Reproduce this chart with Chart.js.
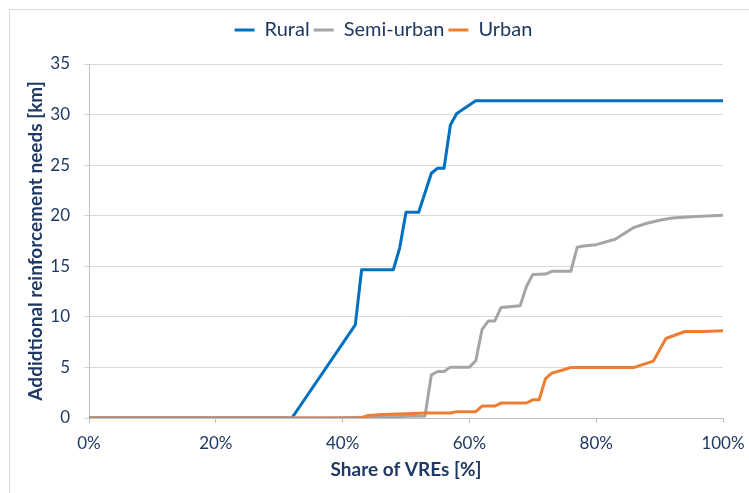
<!DOCTYPE html>
<html>
<head>
<meta charset="utf-8">
<script src="https://cdn.jsdelivr.net/npm/chart.js@4"></script>
<style>
    html, body { margin: 0; padding: 0; background: #fff; overflow: hidden; }
    #wrap { position: relative; width: 749px; height: 493px; }
    #frame { position: absolute; left: 9px; top: 9px; width: 800px; height: 600px;
             border-left: 1px solid #d9d9d9; border-top: 1px solid #d9d9d9; }
    #chart { position: absolute; left: 0; top: 0; }
</style>
</head>
<body>
<div id="wrap">
    <div id="frame"></div>
    <canvas id="chart" width="749" height="493"></canvas>
</div>
<script>
// Values (x = share of VREs in %, y = km)
const ruralX = [0, 32, 42, 43, 48, 49, 50, 52, 54, 55, 56, 57, 58, 61, 100];
const ruralY = [0, 0, 9.2, 14.66, 14.66, 16.8, 20.35, 20.35, 24.2, 24.7, 24.7, 28.96, 30.1, 31.36, 31.36];

const semiX = [0, 38, 45, 53, 54, 55, 56, 57, 60, 61, 62, 63, 64, 65, 68, 69, 70, 72, 73, 76, 77, 78, 80, 83, 86, 88, 90, 92, 95, 100];
const semiY = [0, 0, 0.1, 0.2, 4.27, 4.6, 4.6, 5.03, 5.03, 5.66, 8.76, 9.6, 9.6, 10.93, 11.1, 13.0, 14.2, 14.23, 14.5, 14.5, 16.88, 17.0, 17.14, 17.67, 18.85, 19.25, 19.55, 19.77, 19.9, 20.04];

const urbanX = [0, 43, 44, 46.4, 50, 53, 57, 58, 61, 62, 64, 65, 69, 70, 71, 72, 73, 75, 76, 86, 89, 91, 94, 97, 100];
const urbanY = [0, 0, 0.25, 0.35, 0.42, 0.49, 0.49, 0.63, 0.63, 1.18, 1.18, 1.48, 1.48, 1.8, 1.8, 3.9, 4.44, 4.8, 5.0, 5.0, 5.62, 7.86, 8.55, 8.55, 8.62];

const seriesNames = ['Rural', 'Semi-urban', 'Urban'];
const seriesColors = ['#0070C0', '#A5A5A5', '#ED7D31'];
const xTicks = [0, 20, 40, 60, 80, 100];
const yTicks = [0, 5, 10, 15, 20, 25, 30, 35];

const textColor = '#1F3864';
const fontFamily = 'Lato, "Open Sans", sans-serif';

function toPoints(xs, ys) {
    return xs.map((x, i) => ({ x: x, y: ys[i] }));
}

const datasets = [
    toPoints(ruralX, ruralY),
    toPoints(semiX, semiY),
    toPoints(urbanX, urbanY)
].map((pts, i) => ({
    label: seriesNames[i],
    data: pts,
    borderColor: seriesColors[i],
    backgroundColor: seriesColors[i],
    borderWidth: 3,
    pointRadius: 0,
    tension: 0,
    borderJoinStyle: 'round',
    order: 3 - i // urban drawn on top
}));

// give the legend some room below it and nudge it right, like the original
const legendSpacing = {
    id: 'legendSpacing',
    beforeLayout(chart) {
        const lg = chart.legend;
        if (lg && !lg._patched) {
            const fit = lg.fit;
            lg.fit = function() {
                fit.call(this);
                this.height += 14;
            };
            lg._patched = true;
        }
    },
    afterLayout(chart) {
        const lg = chart.legend;
        if (lg) {
            lg.left += 22;
            lg.right += 22;
        }
    }
};

new Chart(document.getElementById('chart'), {
    type: 'line',
    data: { datasets: datasets },
    options: {
        responsive: false,
        animation: false,
        layout: { autoPadding: false, padding: { left: 0, right: 26, top: 16, bottom: 0 } },
        plugins: {
            legend: {
                position: 'top',
                labels: {
                    usePointStyle: true,
                    pointStyle: 'line',
                    pointStyleWidth: 20,
                    padding: 4,
                    color: textColor,
                    font: { family: fontFamily, size: 20 },
                    sort: (a, b) => a.datasetIndex - b.datasetIndex
                }
            },
            tooltip: { enabled: false }
        },
        scales: {
            x: {
                type: 'linear',
                min: 0,
                max: 100,
                afterFit: function(scale) {
                    scale.height = 75;
                    scale.paddingLeft = 0;
                    scale.paddingRight = 0;
                },
                afterBuildTicks: function(scale) {
                    scale.ticks = xTicks.map(v => ({ value: v }));
                },
                ticks: {
                    padding: 10,
                    color: textColor,
                    font: { family: fontFamily, size: 17 },
                    maxRotation: 0,
                    callback: v => v + '%'
                },
                grid: {
                    drawOnChartArea: false,
                    drawTicks: true,
                    tickLength: 5,
                    color: '#bfbfbf'
                },
                border: { color: '#bfbfbf', width: 1 },
                title: {
                    display: true,
                    text: 'Share of VREs [%]',
                    color: textColor,
                    font: { family: fontFamily, size: 19, weight: 'bold' },
                    padding: { top: 0, bottom: 12 }
                }
            },
            y: {
                min: 0,
                max: 35,
                afterFit: function(scale) {
                    scale.width = 89;
                    scale.paddingTop = 0;
                    scale.paddingBottom = 0;
                },
                afterBuildTicks: function(scale) {
                    scale.ticks = yTicks.map(v => ({ value: v }));
                },
                ticks: {
                    padding: 14,
                    color: textColor,
                    font: { family: fontFamily, size: 17 }
                },
                grid: {
                    color: '#d9d9d9',
                    tickLength: 5,
                    lineWidth: 1
                },
                border: { color: '#bfbfbf', width: 1 },
                title: {
                    display: true,
                    text: 'Addidtional reinforcement needs [km]',
                    color: textColor,
                    font: { family: fontFamily, size: 19, weight: 'bold' },
                    padding: { top: 24, bottom: 0 }
                }
            }
        }
    },
    plugins: [legendSpacing]
});
</script>
</body>
</html>
